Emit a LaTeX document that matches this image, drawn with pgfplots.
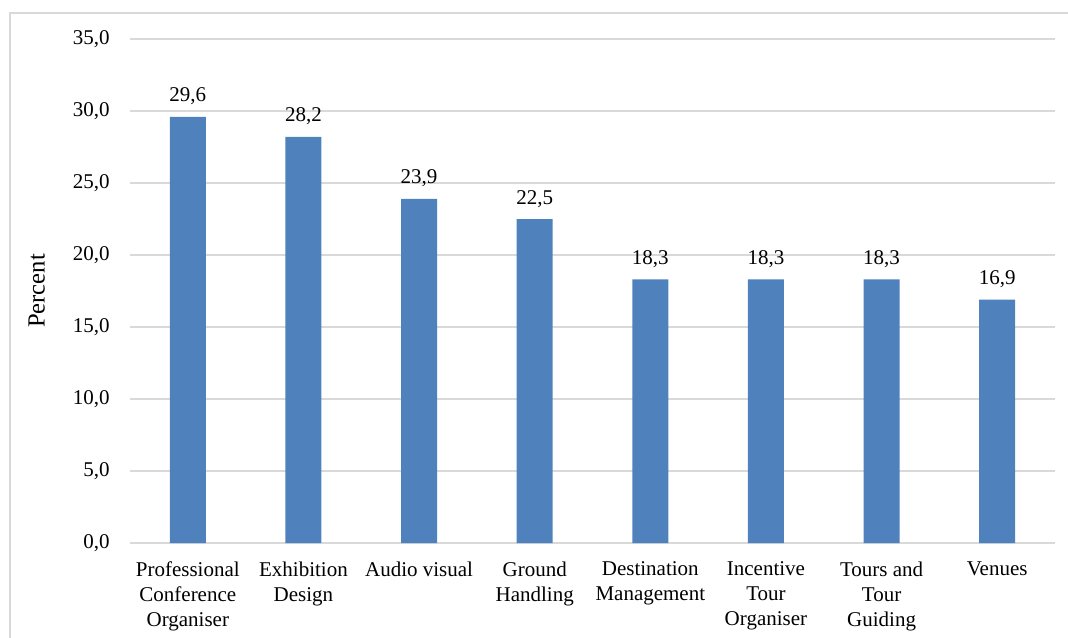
\documentclass[border=0pt]{standalone}
\usepackage{fontspec}
\setmainfont{Liberation Serif}
\usepackage{pgfplots}
\pgfplotsset{compat=1.18}
\definecolor{barblue}{HTML}{4F81BD}
\definecolor{gridgray}{HTML}{D9D9D9}
\newcommand{\chartfont}{\fontsize{10.5}{12.4}\selectfont}
\begin{document}
\chartfont
\begin{tikzpicture}
\useasboundingbox (0,0) rectangle (534pt,318.5pt);
\draw[gridgray, line width=0.75pt] (5pt,-1pt) -- (5pt,312pt) -- (535pt,312pt);
\begin{axis}[
  at={(65pt,47pt)}, anchor=south west,
  scale only axis, width=462.5pt, height=252pt,
  xmin=-0.5, xmax=7.5, ymin=0, ymax=35,
  ytick={0,5,...,35},
  xtick={0,...,7},
  xticklabels={{Professional\\Conference\\Organiser},{Exhibition\\Design},{Audio visual},{Ground\\Handling},{Destination\\Management},{Incentive\\Tour\\Organiser},{Tours and\\Tour\\Guiding},{Venues}},
  xticklabel style={align=center, font=\chartfont, anchor=north, yshift=-5.8pt},
  yticklabel style={font=\chartfont, anchor=east, xshift=-6.5pt},
  ymajorgrids, grid style={gridgray, line width=0.75pt},
  axis line style={draw=none}, major tick length=0pt, tick style={draw=none},
  /pgf/number format/use comma, /pgf/number format/fixed, /pgf/number format/fixed zerofill, /pgf/number format/precision=1, /pgf/number format/assume math mode=true,
  ylabel={Percent},
  every axis y label/.style={at={(axis description cs:-0.101,0.5)}, rotate=90, anchor=center, font=\fontsize{12.3}{14}\selectfont},
  ybar, bar width=18pt,
  nodes near coords,
  nodes near coords style={anchor=base, yshift=7.5pt, font=\chartfont, text=black},
]
\addplot[fill=barblue, draw=none] coordinates {(0,29.6) (1,28.2) (2,23.9) (3,22.5) (4,18.3) (5,18.3) (6,18.3) (7,16.9)};
\end{axis}
\end{tikzpicture}
\end{document}
